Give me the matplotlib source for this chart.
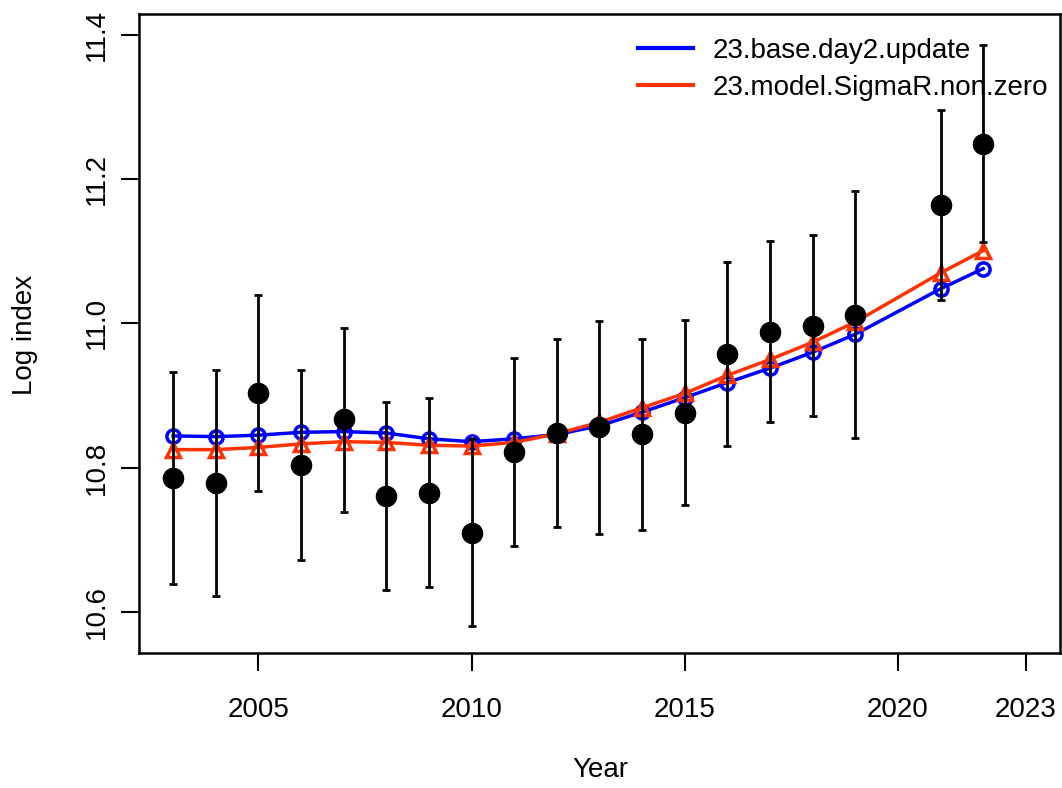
import matplotlib
matplotlib.use("Agg")
import matplotlib.pyplot as plt

years = [2003, 2004, 2005, 2006, 2007, 2008, 2009, 2010, 2011, 2012, 2013,
         2014, 2015, 2016, 2017, 2018, 2019, 2021, 2022]
obs = [10.786, 10.779, 10.903, 10.804, 10.867, 10.761, 10.765, 10.710, 10.822, 10.848, 10.856,
       10.846, 10.876, 10.957, 10.988, 10.996, 11.012, 11.164, 11.249]
obs_upper = [10.933, 10.936, 11.040, 10.935, 10.994, 10.891, 10.896, 10.840, 10.952, 10.979, 11.003,
             10.979, 11.005, 11.085, 11.114, 11.122, 11.183, 11.296, 11.386]
obs_lower = [10.639, 10.622, 10.767, 10.672, 10.738, 10.631, 10.635, 10.581, 10.692, 10.718, 10.708,
             10.714, 10.748, 10.830, 10.863, 10.872, 10.841, 11.032, 11.113]
base_fit = [10.844, 10.843, 10.845, 10.849, 10.850, 10.848, 10.840, 10.836, 10.840, 10.846, 10.858,
            10.877, 10.897, 10.918, 10.938, 10.960, 10.985, 11.048, 11.076]
sigmar_fit = [10.825, 10.825, 10.828, 10.833, 10.836, 10.835, 10.831, 10.830, 10.835, 10.847, 10.863,
              10.883, 10.903, 10.928, 10.950, 10.974, 11.002, 11.070, 11.101]
model_names = ["23.base.day2.update", "23.model.SigmaR.non.zero"]
xticks = [2005, 2010, 2015, 2020, 2023]
yticks = [10.6, 10.8, 11.0, 11.2, 11.4]

plt.rcParams['font.family'] = ['Liberation Sans', 'DejaVu Sans']
FS = 20

fig = plt.figure(figsize=(10.62, 7.88), dpi=100)
ax = fig.add_axes([139/1062, 1 - 653/788, (1060-139)/1062, (653-14)/788])

blue = "#0000FF"
red = "#FF3300"
ax.plot(years, base_fit, color=blue, lw=2.5, marker='o', ms=9.5, mfc='none', mec=blue, mew=2.5,
        label=model_names[0], zorder=2)
ax.plot(years, sigmar_fit, color=red, lw=2.5, marker='^', ms=10.5, mfc='none', mec=red, mew=2.5,
        label=model_names[1], zorder=2)

err_lo = [o - l for o, l in zip(obs, obs_lower)]
err_hi = [u - o for o, u in zip(obs, obs_upper)]
ax.errorbar(years, obs, yerr=[err_lo, err_hi], fmt='none', ecolor='black', elinewidth=2,
            capsize=3, capthick=2, zorder=3)
ax.plot(years, obs, 'o', color='black', ms=14.5, zorder=4)

ax.set_xlim(2002.2, 2023.8)
ax.set_ylim(10.543, 11.429)
ax.set_xticks(xticks)
ax.set_xticklabels([str(t) for t in xticks])
ax.set_yticks(yticks)
ax.set_yticklabels([f"{t:.1f}" for t in yticks], rotation=90, va='center')
ax.tick_params(axis='both', labelsize=FS, length=13, width=1.5, direction='out')
ax.tick_params(axis='x', pad=19)
ax.tick_params(axis='y', pad=8)
for s in ax.spines.values():
    s.set_linewidth(1.8)

fig.text(600/1062, 1 - 770/788, "Year", fontsize=FS, ha='center', va='center')
fig.text(25/1062, 1 - 335/788, "Log index", fontsize=FS, ha='center', va='center', rotation=90)

leg = ax.legend(loc='upper right', frameon=False, fontsize=FS, handlelength=2.0,
                handletextpad=0.7, labelspacing=0.4, bbox_to_anchor=(1.013, 1.0),
                borderaxespad=0.45)
for h in leg.get_lines():
    h.set_marker('')
    h.set_linewidth(3)

fig.savefig("out.png", dpi=100)
